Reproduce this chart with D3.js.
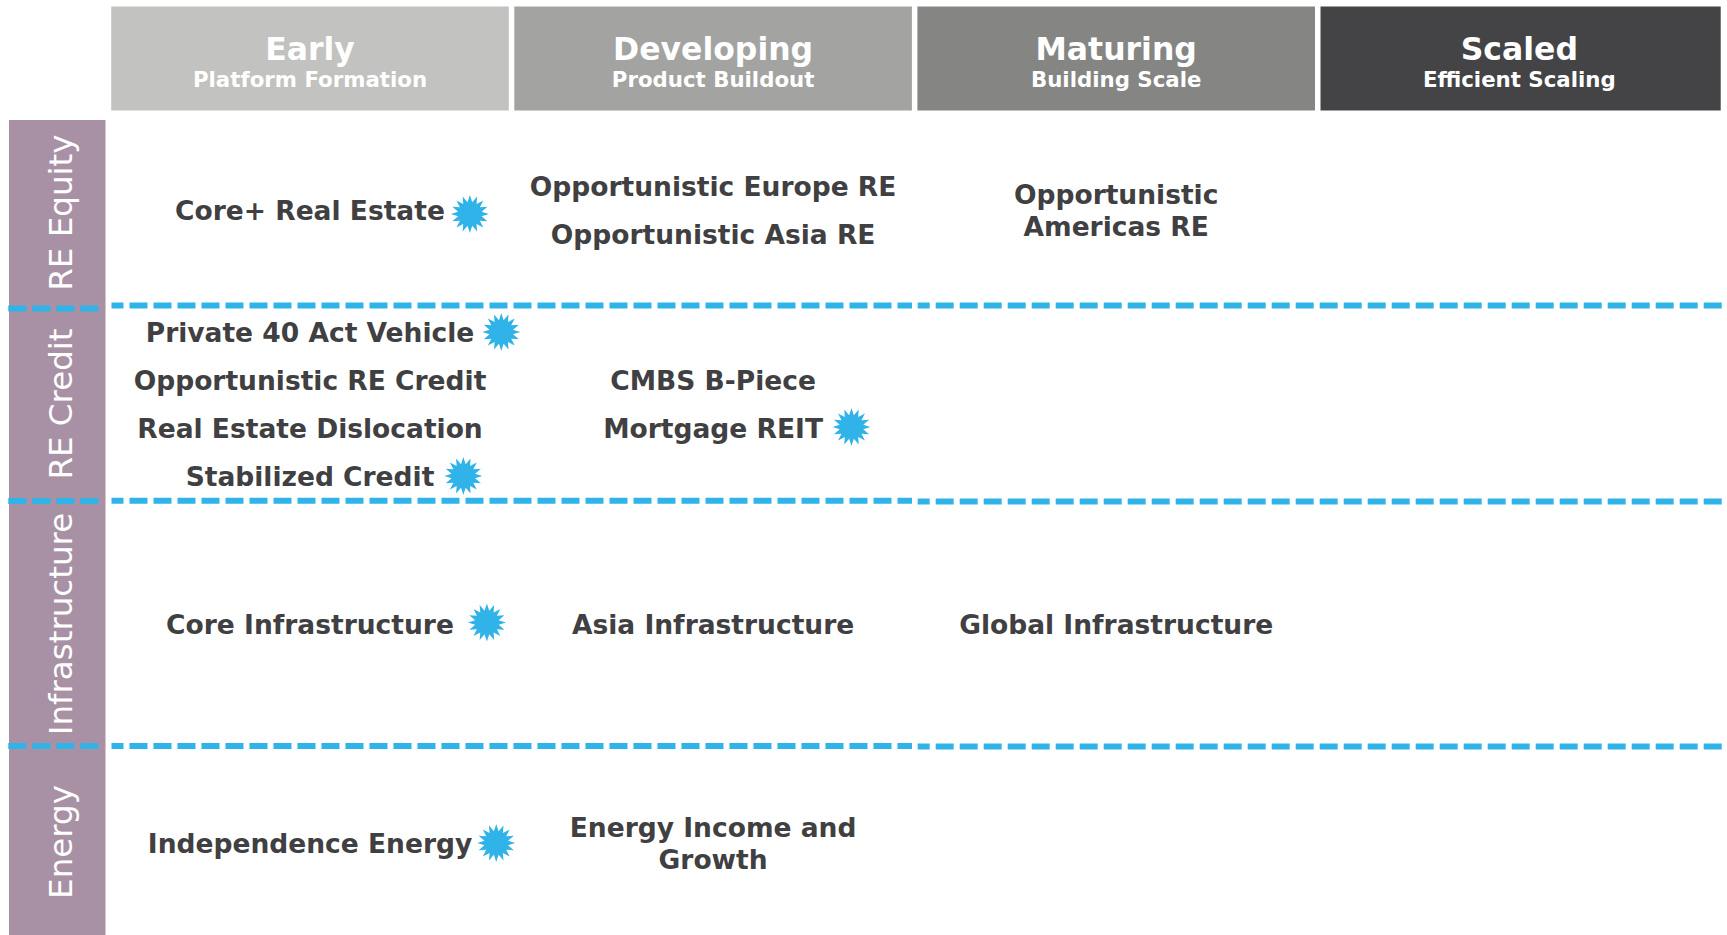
<!DOCTYPE html>
<html>
<head>
<meta charset="utf-8">
<script src="https://cdn.jsdelivr.net/npm/d3@7"></script>
<style>
  html, body { margin: 0; padding: 0; background: #fff; overflow: hidden; }
  text { font-family: "DejaVu Sans", Verdana, sans-serif; }
</style>
</head>
<body>
<div id="chart"></div>
<script>
// stages across the top
var stages = ["Early", "Developing", "Maturing", "Scaled"];
var stageNotes = ["Platform Formation", "Product Buildout", "Building Scale", "Efficient Scaling"];

// strategies down the side
var sectors = ["RE Equity", "RE Credit", "Infrastructure", "Energy"];

// one row per product: name (\n breaks the line), sector, stage, gets a star or not
var products = [
    ["Core+ Real Estate", "RE Equity", "Early", true],
    ["Opportunistic Europe RE", "RE Equity", "Developing", false],
    ["Opportunistic Asia RE", "RE Equity", "Developing", false],
    ["Opportunistic\nAmericas RE", "RE Equity", "Maturing", false],
    ["Private 40 Act Vehicle", "RE Credit", "Early", true],
    ["Opportunistic RE Credit", "RE Credit", "Early", false],
    ["Real Estate Dislocation", "RE Credit", "Early", false],
    ["Stabilized Credit", "RE Credit", "Early", true],
    ["CMBS B-Piece", "RE Credit", "Developing", false],
    ["Mortgage REIT", "RE Credit", "Developing", true],
    ["Core Infrastructure", "Infrastructure", "Early", true],
    ["Asia Infrastructure", "Infrastructure", "Developing", false],
    ["Global Infrastructure", "Infrastructure", "Maturing", false],
    ["Independence Energy", "Energy", "Early", true],
    ["Energy Income and\nGrowth", "Energy", "Developing", false]
];

var width = 1727, height = 935;

var svg = d3.select("#chart").append("svg")
    .attr("width", width)
    .attr("height", height);

var x = d3.scaleBand().domain(stages).range([111.2, 1718.1]).paddingInner(0.01364);
var headFill = d3.scaleOrdinal().domain(stages).range(["#c2c2c0", "#a3a3a1", "#858583", "#444446"]);

// rows are not the same height so the edges are read off the picture
var rowEdge = d3.scaleOrdinal().domain(sectors).range([120, 308, 501, 746]);
var rowCentre = d3.scaleOrdinal().domain(sectors).range([210, 404, 624.5, 843]);
var labelCentre = d3.scaleOrdinal().domain(sectors).range([212.6, 404, 624, 842]);

var ink = "#404042", blue = "#30b3e8";

// headers
var head = svg.selectAll("g.head").data(stages).enter().append("g").attr("class", "head");
head.append("rect")
    .attr("x", function(d){ return x(d); })
    .attr("y", 6.5)
    .attr("width", function(d){ return d == "Scaled" ? x.bandwidth() + 2.6 : x.bandwidth(); })
    .attr("height", 104)
    .style("fill", function(d){ return headFill(d); });
head.append("text")
    .attr("x", function(d){ return x(d) + x.bandwidth() / 2; })
    .attr("y", 60)
    .attr("text-anchor", "middle")
    .style("font-size", "31.5px").style("font-weight", "bold").style("fill", "#fff")
    .text(function(d){ return d; });
head.append("text")
    .attr("x", function(d){ return x(d) + x.bandwidth() / 2; })
    .attr("y", 87)
    .attr("text-anchor", "middle")
    .style("font-size", "21.3px").style("font-weight", "bold").style("fill", "#fff")
    .text(function(d, i){ return stageNotes[i]; });

// purple side band
svg.append("rect")
    .attr("x", 9).attr("y", rowEdge(sectors[0]))
    .attr("width", 96.5).attr("height", height - rowEdge(sectors[0]))
    .style("fill", "#a891a5");

svg.selectAll("text.sector").data(sectors).enter().append("text")
    .attr("class", "sector")
    .attr("transform", function(d){ return "translate(71.5," + labelCentre(d) + ") rotate(-90)"; })
    .attr("text-anchor", "middle")
    .style("font-size", "32.5px").style("fill", "#fff")
    .text(function(d){ return d; });

// dashed dividers, the side band piece sits a little off the main one on the first row
var dividers = [[8.3, 99, 308.6, 0], [111.5, 912, 305.4, 6], [917.7, 1727, 305.6, 6],
                [8.3, 99, 501, 0], [111.5, 912, 500.8, 6], [917.7, 1727, 501.4, 6],
                [8.3, 99, 746, 0], [111.5, 912, 746, 6], [917.7, 1727, 746.6, 6]];
svg.selectAll("line.divider").data(dividers).enter().append("line")
    .attr("class", "divider")
    .attr("x1", function(d){ return d[0]; })
    .attr("x2", function(d){ return d[1]; })
    .attr("y1", function(d){ return d[2]; })
    .attr("y2", function(d){ return d[2]; })
    .style("stroke", blue).style("stroke-width", 6)
    .style("stroke-dasharray", "18 6")
    .style("stroke-dashoffset", function(d){ return d[3]; });

// burst shape for the star
var burstPoints = 16;
var burst = d3.lineRadial().curve(d3.curveLinearClosed)
    .angle(function(d, i){ return i * Math.PI / burstPoints; })
    .radius(function(d, i){ return i % 2 ? 12 : 19; });
var burstPath = burst(d3.range(burstPoints * 2));

var lineGap = 32, itemGap = 48;
var starGap = {"Core+ Real Estate": 25, "Private 40 Act Vehicle": 27, "Stabilized Credit": 29,
               "Mortgage REIT": 28.5, "Core Infrastructure": 33, "Independence Energy": 24};
var starDrop = {"Core+ Real Estate": 4, "Mortgage REIT": -1, "Core Infrastructure": -2};

// stack products in each cell around the row centre
var cells = d3.group(products, function(d){ return d[1]; }, function(d){ return d[2]; });
cells.forEach(function(byStage, sector){
    byStage.forEach(function(items, stage){
        items.forEach(function(p, i){
            var cx = x(stage) + x.bandwidth() / 2;
            var cy = rowCentre(sector) + (i - (items.length - 1) / 2) * itemGap;
            var lines = p[0].split("\n");
            var t = svg.append("text")
                .attr("class", "product")
                .attr("text-anchor", "middle")
                .style("font-size", "26.5px").style("font-weight", "bold").style("fill", ink);
            lines.forEach(function(l, j){
                t.append("tspan")
                    .attr("x", cx)
                    .attr("y", cy + 9.5 + (j - (lines.length - 1) / 2) * lineGap)
                    .text(l);
            });
            if (p[3]) {
                var w = t.node().getComputedTextLength();
                svg.append("path")
                    .attr("d", burstPath)
                    .attr("transform", "translate(" + (cx + w / 2 + starGap[p[0]]) + "," + (cy + (starDrop[p[0]] || 0)) + ")")
                    .style("fill", blue);
            }
        });
    });
});
</script>
</body>
</html>
